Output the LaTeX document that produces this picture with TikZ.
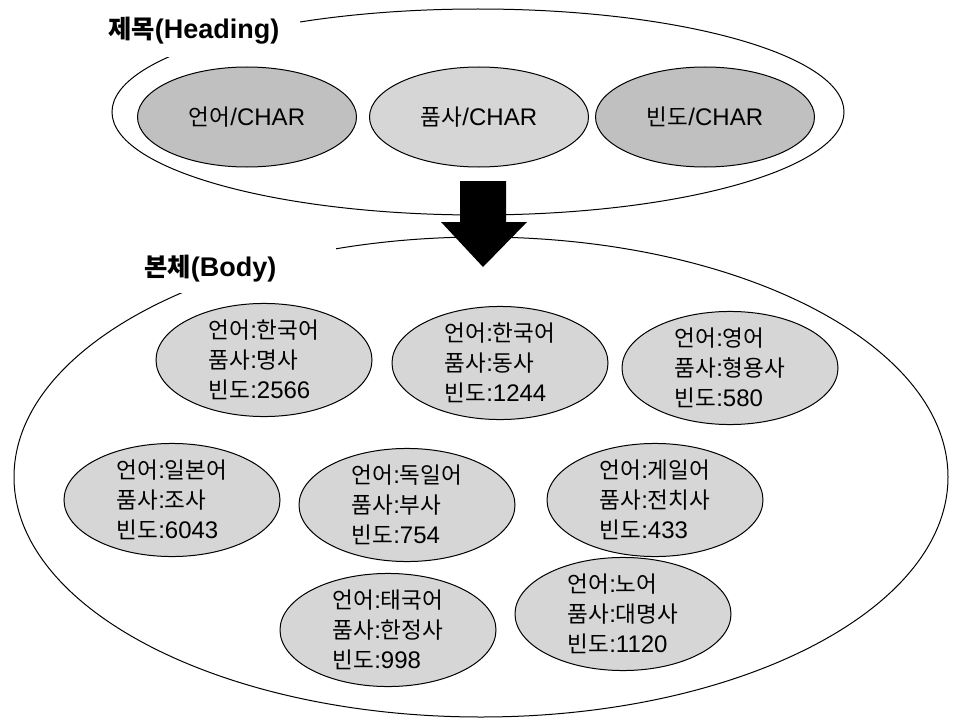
\documentclass[tikz,border=0pt]{standalone}
\usepackage{fontspec}
\setmainfont{Liberation Sans}
\newfontfamily\kr{Noto Sans CJK KR}[Scale=0.94]
\usetikzlibrary{shapes.geometric}

\definecolor{fieldgray}{HTML}{C0C0C0}
\definecolor{fieldlight}{HTML}{D6D6D6}
\definecolor{entrygray}{HTML}{D6D6D6}

\tikzset{
  field/.style={ellipse, draw, line width=1pt, fill=fieldgray, inner sep=0pt,
    minimum width=219pt, minimum height=100pt, font=\fontsize{24}{30}\selectfont},
  entry/.style={ellipse, draw, line width=1pt, fill=entrygray, inner sep=0pt,
    minimum width=216pt, minimum height=104pt, align=left,
    font=\fontsize{24}{30}\selectfont},
  group/.style={ellipse, draw, line width=1pt, inner sep=0pt},
  title/.style={anchor=north west, fill=white, inner sep=6pt, text width=186pt,
    minimum height=54pt, align=left, font=\fontsize{27}{30}\selectfont\bfseries}
}

% 레코드 한 개의 세 줄
\newcommand\rec[3]{{\kr 언어}:{\kr #1}\\{\kr 품사}:{\kr #2}\\{\kr 빈도}:#3}

\begin{document}
\begin{tikzpicture}[x=1pt,y=-1pt]
    \useasboundingbox (0,0) rectangle (970,725);

    % 제목 부분
    \node[group, minimum width=732pt, minimum height=206pt] (head) at (478,112) {};
    \node[title] (headlabel) at (102,3) {{\kr\bfseries 제목}(Heading)};
    \node[field] (lang) at (247,117) {{\kr 언어}/CHAR};
    \node[field, fill=fieldlight] (pos) at (479,117) {{\kr 품사}/CHAR};
    \node[field] (freq) at (705,117) {{\kr 빈도}/CHAR};

    % 본체 부분
    \node[group, minimum width=934pt, minimum height=480pt] (body) at (481,477) {};
    \node[title, minimum height=50pt] (bodylabel) at (138,243) {{\kr\bfseries 본체}(Body)};

    % 레코드
    \node[entry] (r1) at (264,360) {\rec{한국어}{명사}{2566}};
    \node[entry] (r2) at (500,363) {\rec{한국어}{동사}{1244}};
    \node[entry] (r3) at (730,368) {\rec{영어}{형용사}{580}};
    \node[entry] (r4) at (172,500) {\rec{일본어}{조사}{6043}};
    \node[entry] (r5) at (407,505) {\rec{독일어}{부사}{754}};
    \node[entry] (r6) at (655,500) {\rec{게일어}{전치사}{433}};
    \node[entry] (r7) at (388,630) {\rec{태국어}{한정사}{998}};
    \node[entry] (r8) at (623,614) {\rec{노어}{대명사}{1120}};

    % 화살표
    \fill[black] (460,181) -- (506,181) -- (506,222) -- (527,222) -- (483,267)
        -- (441,222) -- (460,222) -- cycle;
\end{tikzpicture}
\end{document}
